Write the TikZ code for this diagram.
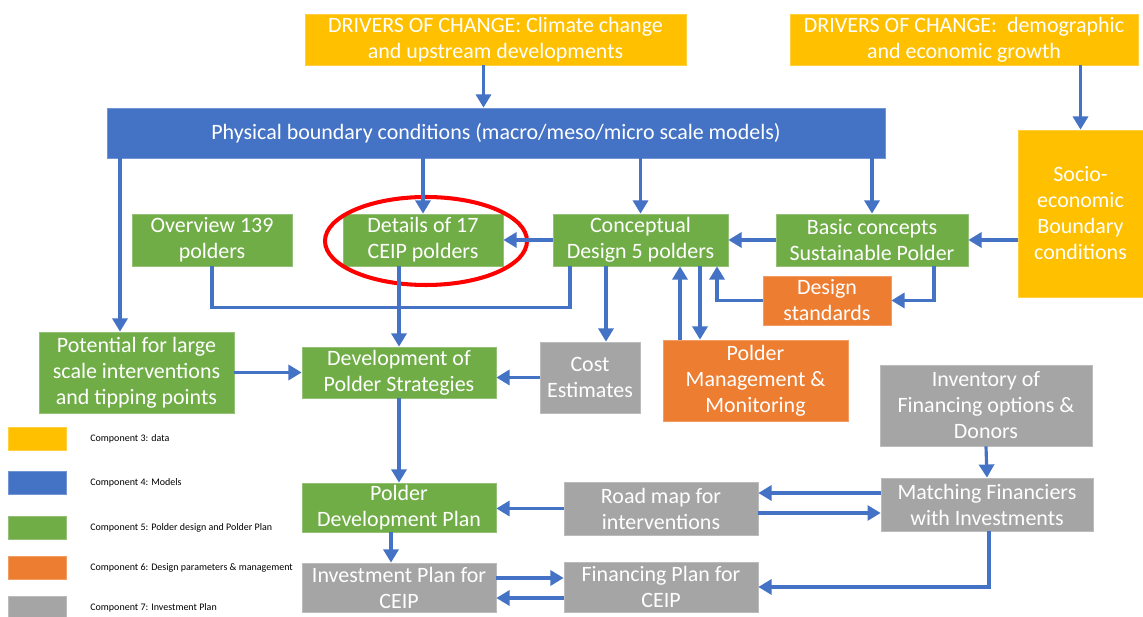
\documentclass[tikz,border=0pt]{standalone}
\usepackage{fontspec}
\setmainfont{Carlito}
\usetikzlibrary{arrows.meta,calc}
\definecolor{ylw}{HTML}{FFC000}
\definecolor{blu}{HTML}{4472C4}
\definecolor{grn}{HTML}{70AD47}
\definecolor{org}{HTML}{ED7D31}
\definecolor{gry}{HTML}{A5A5A5}
\definecolor{arr}{HTML}{4472C4}
\begin{document}
\begin{tikzpicture}[x=0.02cm,y=-0.02cm,>={Triangle[length=7.5pt,width=8.5pt]},
    box/.style={draw=#1!75!white,fill=#1,text=white,align=center,inner sep=1pt,
      font=\fontsize{12.5}{14.8}\selectfont},
    flow/.style={->,draw=arr,line width=1.8pt},
    link/.style={draw=arr,line width=1.8pt},
    swatch/.style={fill=#1,draw=#1!75!white,minimum width=1.16cm,minimum height=0.46cm,inner sep=0pt},
    legtext/.style={anchor=west,inner sep=0pt,font=\fontsize{5.7}{7}\selectfont}]
    \useasboundingbox (0,0) rectangle (1143,617);

    % drivers and models
    \node[box=ylw,minimum width=7.62cm,minimum height=1.02cm] (dr1) at (495.5,39.5) {DRIVERS OF CHANGE: Climate change\\and upstream developments};
    \node[box=ylw,minimum width=6.96cm,minimum height=1.02cm] (dr2) at (964,39.5) {DRIVERS OF CHANGE:\ \ demographic\\and economic growth};
    \node[box=blu,minimum width=15.56cm,minimum height=1.0cm] (phy) at (496,133) {Physical boundary conditions (macro/meso/micro scale models)};
    \node[box=ylw,minimum width=2.5cm,minimum height=3.34cm] (soc) at (1080.5,213.5) {Socio-\\economic\\Boundary\\conditions};

    % polder design
    \node[box=grn,minimum width=3.2cm,minimum height=1.04cm] (ov) at (212,240) {Overview 139\\polders};
    \node[box=grn,minimum width=3.2cm,minimum height=1.04cm] (det) at (423,240) {Details of 17\\CEIP polders};
    \node[box=grn,minimum width=3.5cm,minimum height=1.04cm] (cd) at (640.5,240) {Conceptual\\Design 5 polders};
    \node[box=grn,minimum width=3.84cm,minimum height=1.04cm] (bc) at (872,240) {Basic concepts\\Sustainable Polder};
    \node[box=org,minimum width=2.56cm,minimum height=0.98cm] (ds) at (827,300.5) {Design\\standards};
    \node[box=grn,minimum width=3.9cm,minimum height=1.62cm] (pot) at (136.5,372.5) {Potential for large\\scale interventions\\and tipping points};
    \node[box=grn,minimum width=3.88cm,minimum height=1.02cm] (dev) at (399,372.5) {Development of\\Polder Strategies};
    \node[box=gry,minimum width=2.0cm,minimum height=1.42cm] (cost) at (590,377.5) {Cost\\Estimates};
    \node[box=org,minimum width=3.7cm,minimum height=1.62cm] (pm) at (755.5,380.5) {Polder\\Management \&\\Monitoring};

    % investment plan
    \node[box=gry,minimum width=4.24cm,minimum height=1.62cm] (inv) at (986,405.5) {Inventory of\\Financing options \&\\Donors};
    \node[box=grn,minimum width=3.88cm,minimum height=0.98cm] (pdp) at (399,507.5) {Polder\\Development Plan};
    \node[box=gry,minimum width=3.88cm,minimum height=1.06cm] (rm) at (661,508.5) {Road map for\\interventions};
    \node[box=gry,minimum width=4.24cm,minimum height=1.06cm] (mf) at (987,504.5) {Matching Financiers\\with Investments};
    \node[box=gry,minimum width=3.88cm,minimum height=0.98cm] (ip) at (399,587.5) {Investment Plan for\\CEIP};
    \node[box=gry,minimum width=3.88cm,minimum height=1.0cm] (fp) at (661,587) {Financing Plan for\\CEIP};

    % highlight
    \draw[red,line width=2.3pt] (426,241) ellipse [x radius=101,y radius=44];

    % connectors
    \draw[flow] ($(dr1.south)+(-12,0)$) coordinate (p1) -- (p1 |- phy.north);
    \draw[flow] (soc.north |- dr2.south) -- (soc.north);
    \draw[flow] ($(phy.south)+(-376,0)$) coordinate (p2) -- (p2 |- pot.north);
    \draw[flow] (det.north |- phy.south) -- (det.north);
    \draw[flow] (cd.north |- phy.south) -- (cd.north);
    \draw[flow] (bc.north |- phy.south) -- (bc.north);
    \draw[flow] (soc.west |- bc.east) -- (bc.east);
    \draw[flow] (bc.west) -- (cd.east);
    \draw[flow] (cd.west) -- (det.east);
    \draw[link] (ov.south) -- ++(0,41) -| ($(cd.south)+(-70.5,0)$);
    \draw[flow] (dev.north |- det.south) -- (dev.north);
    \draw[flow] (pot.east) -- (dev.west);
    \draw[flow] (cost.west) -- (cost.west -| dev.east);
    \draw[flow] ($(cd.south)+(-34.5,0)$) coordinate (p3) -- (p3 |- cost.north);
    \draw[flow] ($(pm.north)+(-75.5,0)$) coordinate (p4) -- (p4 |- cd.south);
    \draw[flow] ($(cd.south)+(59.5,0)$) coordinate (p5) -- (p5 |- pm.north);
    \draw[flow] (ds.west) -| ($(cd.south)+(76.5,0)$);
    \draw[flow] ($(bc.south)+(62,0)$) |- (ds.east);
    \draw[flow] (inv.south) -- (mf.north);
    \draw[flow] ($(mf.west)+(0,-11.5)$) coordinate (p6) -- (p6 -| rm.east);
    \draw[flow] ($(rm.east)+(0,4.5)$) coordinate (p7) -- (p7 -| mf.west);
    \draw[flow] (rm.west) -- (rm.west -| pdp.east);
    \draw[flow] (dev.south) -- (pdp.north);
    \draw[flow] ($(pdp.south)+(-8,0)$) coordinate (p8) -- (p8 |- ip.north);
    \draw[flow] ($(ip.east)+(0,-9.5)$) coordinate (p9) -- (p9 -| fp.west);
    \draw[flow] ($(fp.west)+(0,11)$) coordinate (p10) -- (p10 -| ip.east);
    \draw[flow] ($(mf.south)+(2,0)$) |- (fp.east);

    % legend
    \foreach \c/\y/\t [count=\i] in {ylw/439/Component 3: data, blu/483/Component 4: Models,
        grn/528/Component 5: Polder design and Polder Plan,
        org/568/Component 6: Design parameters \& management, gry/608/Component 7: Investment Plan}{
      \node[swatch=\c] (sw\i) at (37,\y) {};
      \node[legtext] (lg\i) at (90,\y) {\t};
    }
\end{tikzpicture}
\end{document}
